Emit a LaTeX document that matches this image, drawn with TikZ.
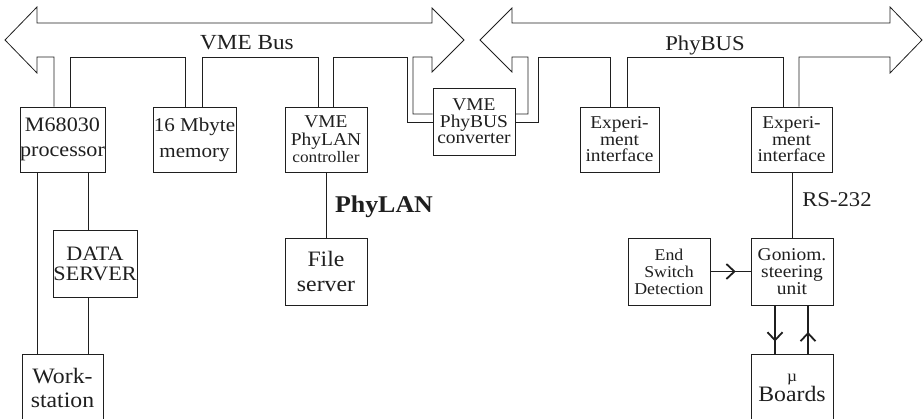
\documentclass[tikz,border=0pt]{standalone}
\usepackage{fontspec}
\setmainfont{Liberation Serif}[FakeStretch=1.08]
\usetikzlibrary{arrows.meta,calc}

\definecolor{ink}{gray}{0.12}

\tikzset{
  bus/.style={draw=ink, line width=0.8pt, line join=miter},
  link/.style={draw=ink, line width=0.8pt},
  unit/.style={draw=ink, line width=0.8pt, inner sep=0pt, align=center,
               minimum width=82pt, minimum height=66pt, text=ink},
  fs/.style n args={2}{font=\fontsize{#1}{#2}\selectfont},
  flow/.style={draw=ink, line width=1.8pt},
  chevron/.style={draw=ink, line width=1.8pt,
    -{Straight Barb[length=8pt,width=15pt,line width=1.8pt]}},
}

\begin{document}
\begin{tikzpicture}[x=1pt, y=-1pt]
\useasboundingbox (0,0) rectangle (924,419);

% ---- units on the VME bus ----
\node[unit, minimum width=81pt, minimum height=65pt, fs={20.5}{25}] (proc) at (62.5,139.5) {M68030\\processor};
\node[unit, minimum width=83pt, minimum height=65pt, fs={19.5}{26}] (mem)  at (194.5,139.5) {16 Mbyte\\memory};
\node[unit, minimum width=82pt, minimum height=65pt, fs={18}{17.5}] (plc) at (326,139.5)
  {VME\\PhyLAN\\{\fontsize{16}{18}\selectfont controller}};
\node[unit, minimum width=82pt, minimum height=67pt, fs={18}{16.5}] (conv) at (474,121.5) {VME\\PhyBUS\\converter};

% ---- units on the PhyBUS ----
\node[unit, minimum width=79pt, minimum height=65pt, fs={18}{16.5}] (exp1) at (619.5,139.5) {Experi-\\ment\\interface};
\node[unit, minimum width=81pt, minimum height=65pt, fs={18}{16.5}] (exp2) at (791.5,139.5) {Experi-\\ment\\interface};

% ---- lower units ----
\node[unit, minimum width=84pt, minimum height=67pt, fs={20.5}{20}] (data) at (95,263.5) {DATA\\SERVER};
\node[unit, minimum width=81pt, minimum height=68pt, fs={22}{24}] (work) at (62.5,388) {Work-\\station};
\node[unit, minimum width=82pt, minimum height=67pt, fs={22}{25}] (file) at (326,271.5) {File\\server};
\node[unit, minimum width=82pt, minimum height=67pt, fs={16.5}{17}] (end) at (669,271.5) {End\\Switch\\Detection};
\node[unit, minimum width=82pt, minimum height=67pt, fs={18}{17}] (gon) at (792,271.5) {Goniom.\\steering\\unit};
\node[unit, minimum width=82pt, minimum height=68pt, fs={22}{20}] (mu) at (792,388)
  {{\fontsize{16}{18}\selectfont µ}\\Boards};

% ---- VME bus outline ----
\draw[bus] (413,114 -| conv.west) -- (413,114) -- (413,57) -- (432,57) -- (432,72)
  -- (464,40) -- (432,8) -- (432,23) -- (37,23) -- (37,7) -- (5,40) -- (37,73)
  -- (37,57) -- (54,57) -- (54,57 |- proc.north);
\draw[bus] (70,57 |- proc.north) -- (70,57) -- (185,57) -- (185,57 |- mem.north);
\draw[bus] (202,57 |- mem.north) -- (202,57) -- (318,57) -- (318,57 |- plc.north);
\draw[bus] (333,57 |- plc.north) -- (333,57) -- (407,57) -- (407,122) -- (407,122 -| conv.west);

% ---- PhyBUS outline ----
\draw[bus] (528,114 -| conv.east) -- (528,114) -- (528,57) -- (512,57) -- (512,72)
  -- (480,40) -- (512,8) -- (512,23) -- (890,23) -- (890,7) -- (922,40) -- (890,73)
  -- (890,57) -- (799,57) -- (799,57 |- exp2.north);
\draw[bus] (783,57 |- exp2.north) -- (783,57) -- (627,57) -- (627,57 |- exp1.north);
\draw[bus] (610,57 |- exp1.north) -- (610,57) -- (538,57) -- (538,122) -- (538,122 -| conv.east);

% ---- bus labels ----
\node[fs={21.5}{24}, text=ink] (vmelbl) at (247,43) {VME Bus};
\node[fs={21}{24}, text=ink] (phylbl) at (705,45) {PhyBUS};

% ---- workstation links ----
\draw[link] (37,0 |- proc.south) -- (37,0 |- work.north);
\draw[link] (88,0 |- proc.south) -- (88,0 |- data.north);
\draw[link] (88,0 |- data.south) -- (88,0 |- work.north);

% ---- PhyLAN ----
\draw[link] (plc.south) -- (file.north);
\node[font=\bfseries\fontsize{24}{28}\selectfont, text=ink] (lanlbl) at (384,207) {PhyLAN};

% ---- RS-232 ----
\draw[link] (792,0 |- exp2.south) -- (792,0 |- gon.north);
\node[fs={21}{24}, text=ink] (rslbl) at (837,200) {RS-232};

% ---- steering unit signals: full line plus a chevron part-way along ----
\coordinate (esA) at (end.east);
\coordinate (esB) at (gon.west);
\coordinate (dnA) at (775,0 |- gon.south);
\coordinate (dnB) at (775,0 |- mu.north);
\coordinate (upA) at (808,0 |- mu.north);
\coordinate (upB) at (808,0 |- gon.south);
\draw[flow] (esA) -- (esB);
\draw[flow] (dnA) -- (dnB);
\draw[flow] (upA) -- (upB);
\draw[chevron] (esA) -- ($(esA)!0.63!(esB)$);
\draw[chevron] (dnA) -- ($(dnA)!0.75!(dnB)$);
\draw[chevron] (upA) -- ($(upA)!0.45!(upB)$);
\end{tikzpicture}
\end{document}
